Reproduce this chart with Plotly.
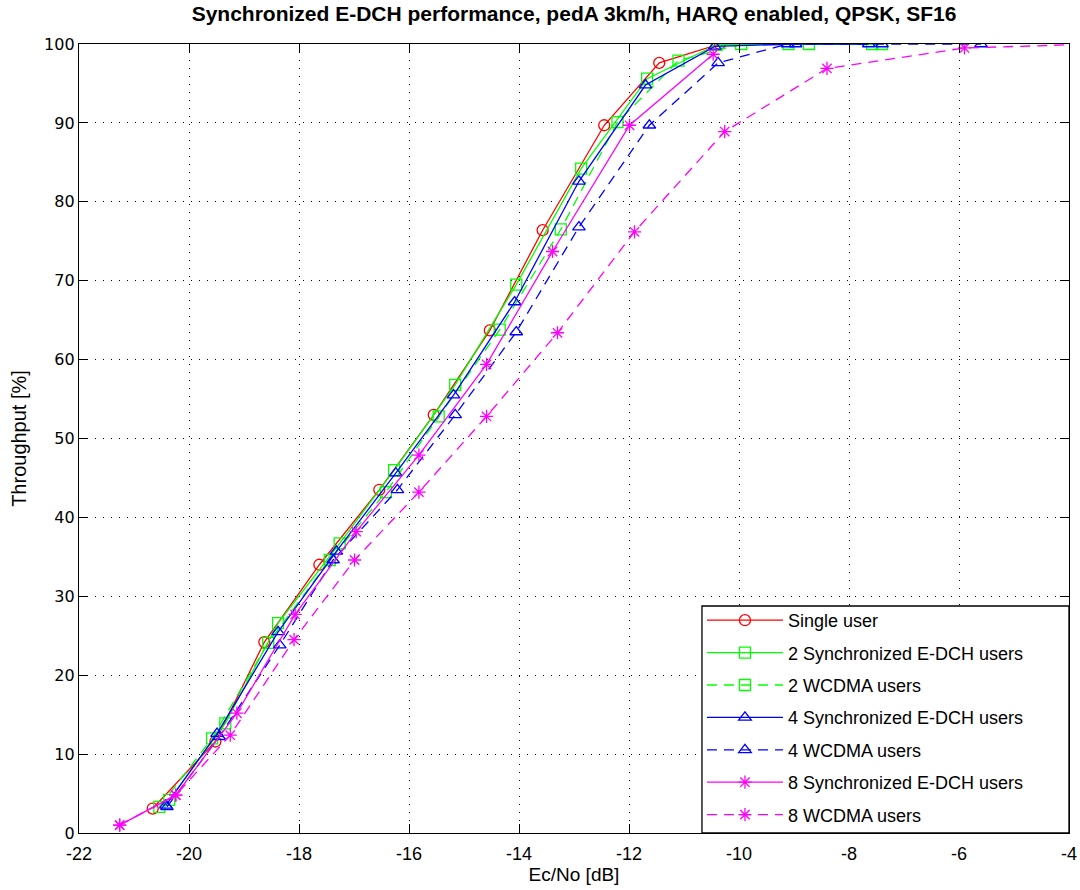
import plotly.graph_objects as go

# ---------------- data ----------------
single_x = [-20.66, -19.52, -18.63, -17.63, -16.54, -15.55, -14.53, -13.57, -12.45, -11.45, -10.35]
single_y = [3.1, 11.6, 24.2, 34.0, 43.5, 53.0, 63.7, 76.4, 89.7, 97.6, 100.0]

sync2_x = [-20.36, -19.34, -18.38, -17.26, -16.27, -15.16, -14.05, -12.87, -11.67, -10.41, -9.10, -7.58]
sync2_y = [4.2, 13.9, 26.6, 36.7, 46.0, 56.8, 69.5, 84.2, 95.6, 99.9, 100.0, 100.0]

wcdma2_x = [-20.54, -19.58, -18.56, -17.44, -16.42, -15.46, -14.35, -13.24, -12.21, -11.10, -9.96, -8.73, -7.40]
wcdma2_y = [3.3, 12.0, 24.1, 34.6, 43.2, 52.8, 63.8, 76.5, 90.1, 97.9, 100.0, 100.0, 100.0]

sync4_x = [-20.42, -19.49, -18.38, -17.32, -16.24, -15.19, -14.08, -12.91, -11.70, -10.44, -8.97, -7.64]
sync4_y = [3.5, 12.6, 25.5, 35.7, 45.6, 55.5, 67.3, 82.6, 94.8, 99.7, 100.0, 100.0]

wcdma4_x = [-20.40, -19.45, -18.35, -17.38, -16.21, -15.16, -14.05, -12.91, -11.63, -10.38, -9.12, -7.40, -5.60]
wcdma4_y = [3.3, 12.2, 23.8, 34.6, 43.5, 53.0, 63.5, 76.8, 89.7, 97.6, 100.0, 100.0, 100.0]

sync8_x = [-21.26, -20.24, -19.13, -18.07, -16.96, -15.82, -14.59, -13.39, -11.99, -10.47]
sync8_y = [1.0, 4.8, 15.2, 27.7, 38.2, 47.9, 59.4, 73.7, 89.7, 98.7]

wcdma8_x = [-21.26, -20.24, -19.25, -18.09, -16.99, -15.82, -14.59, -13.30, -11.90, -10.26, -8.40, -5.90, -3.50]
wcdma8_y = [1.0, 4.8, 12.4, 24.5, 34.6, 43.2, 52.8, 63.4, 76.2, 88.9, 96.9, 99.5, 100.0]

names = ["Single user", "2 Synchronized E-DCH users", "2 WCDMA users",
         "4 Synchronized E-DCH users", "4 WCDMA users",
         "8 Synchronized E-DCH users", "8 WCDMA users"]

x_ticks = [-22, -20, -18, -16, -14, -12, -10, -8, -6, -4]
y_ticks = [0, 10, 20, 30, 40, 50, 60, 70, 80, 90, 100]

# ---------------- styles ----------------
series = [
    (single_x, single_y, "#FF0000", "solid", "circle-open"),
    (sync2_x, sync2_y, "#00FF00", "solid", "square-open"),
    (wcdma2_x, wcdma2_y, "#00FF00", "10px,7px", "square-open"),
    (sync4_x, sync4_y, "#0000FF", "solid", "triangle-up-open"),
    (wcdma4_x, wcdma4_y, "#0000FF", "10px,7px", "triangle-up-open"),
    (sync8_x, sync8_y, "#FF00FF", "solid", "asterisk-open"),
    (wcdma8_x, wcdma8_y, "#FF00FF", "10px,7px", "asterisk-open"),
]

W, H = 1080, 890
ML, MR, MT, MB = 79, 3, 44, 57
PW, PH = W - ML - MR, H - MT - MB

fig = go.Figure()
for i, (xs, ys, col, dash, sym) in enumerate(series):
    fig.add_trace(go.Scatter(
        x=xs, y=ys, name=names[i], mode="lines+markers",
        legendgroup=f"g{i}",
        line=dict(color=col, width=1.3, dash=dash),
        marker=dict(symbol=sym, size=11, color=col, line=dict(color=col, width=1.3)),
        cliponaxis=True,
    ))

axis_common = dict(
    showline=True, linecolor="black", linewidth=1.3, mirror="ticks",
    ticks="inside", ticklen=9, tickwidth=1.3, tickcolor="black",
    showgrid=True, gridcolor="black", gridwidth=1, griddash="1px,7px",
    zeroline=False,
)

# legend box (drawn as a shape so its size matches the reference)
leg_x0 = (707 - ML) / PW
leg_y1 = (833 - 606) / PH
fig.add_shape(type="rect", xref="paper", yref="paper",
              x0=leg_x0, x1=1, y0=0, y1=leg_y1,
              fillcolor="white", line=dict(color="black", width=1.3), layer="above")

fig.update_layout(
    width=W, height=H,
    paper_bgcolor="white", plot_bgcolor="white",
    margin=dict(l=ML, r=MR, t=MT, b=MB),
    title=dict(
        text="<b>Synchronized E-DCH performance, pedA 3km/h, HARQ enabled, QPSK, SF16</b>",
        x=0.5, xref="paper", xanchor="center", y=1 - 14 / H, yanchor="middle",
        font=dict(family="Liberation Sans Narrow, Liberation Sans, Arial", size=21, color="black"),
    ),
    xaxis=dict(
        range=[-22, -4], tickvals=x_ticks, ticktext=[str(v) for v in x_ticks],
        ticklabeloverflow="allow", ticklabelstandoff=4,
        title=dict(text="Ec/No [dB]", standoff=2,
                   font=dict(family="Liberation Sans Narrow, Liberation Sans", size=19, color="black")),
        tickfont=dict(family="Liberation Sans Narrow, Liberation Sans", size=18, color="black"),
        **axis_common,
    ),
    yaxis=dict(
        range=[0, 100], tickvals=y_ticks, ticktext=[str(v) for v in y_ticks],
        title=dict(text="Throughput [%]", standoff=12,
                   font=dict(family="Liberation Sans Narrow, Liberation Sans", size=20, color="black")),
        tickfont=dict(family="DejaVu Sans", size=16, color="black"),
        **axis_common,
    ),
    legend=dict(
        x=leg_x0, xanchor="left", y=0, yanchor="bottom",
        bgcolor="rgba(0,0,0,0)", borderwidth=0,
        font=dict(family="Liberation Sans", size=18, color="black"),
        tracegroupgap=6, itemwidth=76,
    ),
    showlegend=True,
)

fig.write_html("out.html")
